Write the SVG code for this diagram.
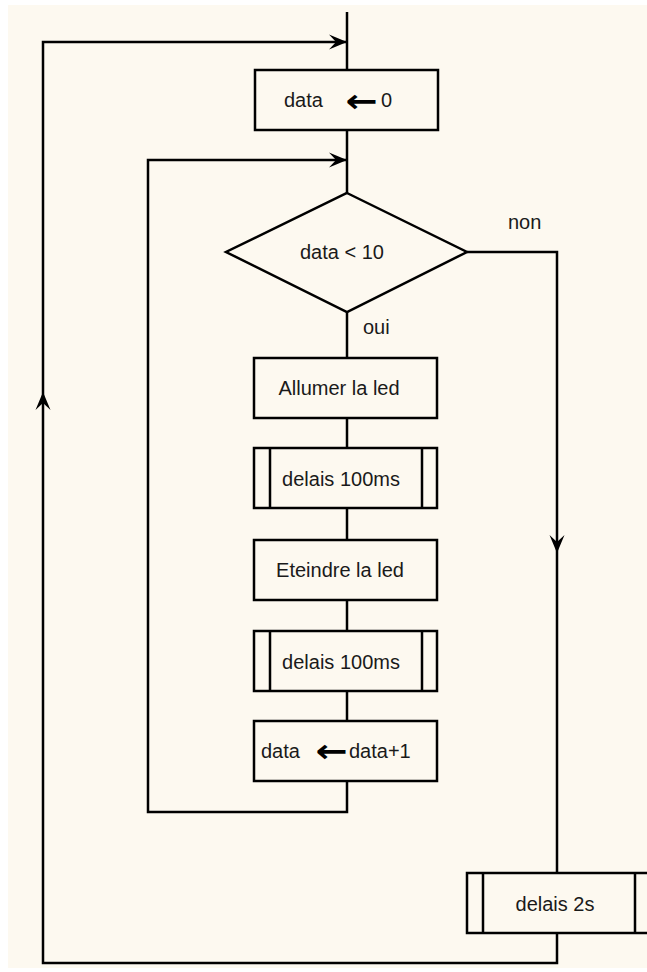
<svg xmlns="http://www.w3.org/2000/svg" width="647" height="972" viewBox="0 0 647 972">
<style>
.s{fill:none;stroke:#000;stroke-width:2.5;stroke-linejoin:miter}
.b{fill:#FDF9F0;stroke:#000;stroke-width:2.5}
.t{font-family:"Liberation Sans",Arial,sans-serif;font-size:20px;fill:#1a1a1a}
.ar{font-family:"DejaVu Sans",sans-serif;font-size:32px;font-weight:bold;fill:#000}
.ah{fill:#000}
</style>
<defs>
<path id="arr" d="M0,0 L-18,-7.5 L-11,0 L-18,7.5 Z"/>
</defs>
<rect x="0" y="0" width="647" height="972" fill="#fff"/>
<rect x="8" y="5" width="639" height="963" fill="#FDF9F0"/>
<g id="connectors">
<path class="s" d="M347,12 V70"/>
<path class="s" d="M347,130 V193"/>
<path class="s" d="M347,312 V358"/>
<path class="s" d="M347,418 V448"/>
<path class="s" d="M347,508 V540"/>
<path class="s" d="M347,600 V631"/>
<path class="s" d="M347,691 V721"/>
<path class="s" d="M347,781 V812 H148 V160 H347"/>
<path class="s" d="M467,252 H557 V873"/>
<path class="s" d="M557,933 V963 H43 V42 H347"/>
<use href="#arr" class="ah" transform="translate(347,42)"/>
<use href="#arr" class="ah" transform="translate(347,160)"/>
<use href="#arr" class="ah" transform="translate(43,392) rotate(-90)"/>
<use href="#arr" class="ah" transform="translate(557,553) rotate(90)"/>
</g>
<g id="init">
<rect class="b" x="255" y="70" width="183" height="60"/>
<text class="t" x="284" y="107">data</text>
<text class="ar" x="0" y="0" text-anchor="middle" transform="translate(361.5,112) scale(1.2,1)">←</text>
<text class="t" x="381" y="107">0</text>
</g>
<g id="decision">
<polygon class="b" points="347,193 467,252 347,312 226,252"/>
<text class="t" x="300" y="259">data &lt; 10</text>
</g>
<text id="non" class="t" x="508" y="229">non</text>
<text id="oui" class="t" x="363" y="334">oui</text>
<g id="allumer">
<rect class="b" x="254" y="358" width="183" height="60"/>
<text class="t" x="339" y="395" text-anchor="middle">Allumer la led</text>
</g>
<g id="delai1">
<rect class="b" x="254" y="448" width="183" height="60"/>
<path class="s" d="M270,448 V508 M422,448 V508"/>
<text class="t" x="341" y="486" text-anchor="middle">delais 100ms</text>
</g>
<g id="eteindre">
<rect class="b" x="254" y="540" width="183" height="60"/>
<text class="t" x="340" y="577" text-anchor="middle">Eteindre la led</text>
</g>
<g id="delai2">
<rect class="b" x="254" y="631" width="183" height="60"/>
<path class="s" d="M270,631 V691 M422,631 V691"/>
<text class="t" x="341" y="669" text-anchor="middle">delais 100ms</text>
</g>
<g id="incr">
<rect class="b" x="254" y="721" width="183" height="60"/>
<text class="t" x="261" y="758">data</text>
<text class="ar" x="0" y="0" text-anchor="middle" transform="translate(331.5,762) scale(1.2,1)">←</text>
<text class="t" x="349" y="758">data+1</text>
</g>
<g id="delai2s">
<rect class="b" x="467" y="873" width="200" height="60"/>
<path class="s" d="M483,873 V933 M635,873 V933"/>
<text class="t" x="555" y="911" text-anchor="middle">delais 2s</text>
</g>
</svg>
